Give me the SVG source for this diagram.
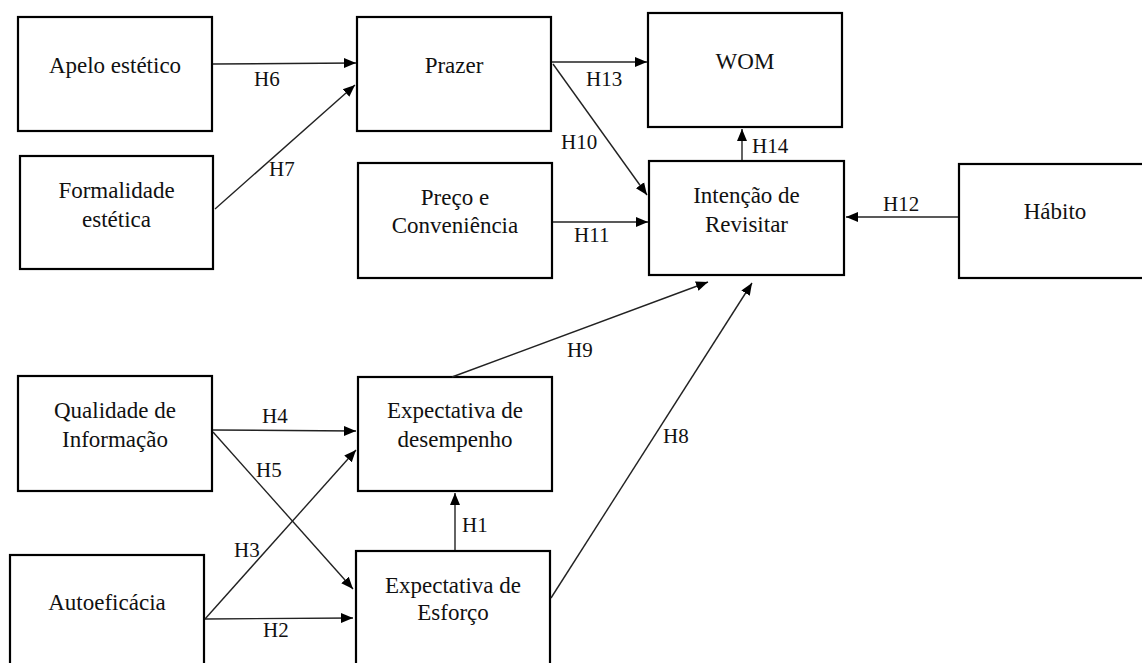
<svg xmlns="http://www.w3.org/2000/svg" width="1142" height="663" viewBox="0 0 1142 663">
<style>
.box{fill:#fff;stroke:#000;stroke-width:2.2}
.t{font-size:23px;fill:#111;text-anchor:middle}
.l{font-size:21px;fill:#111}
.c{stroke:#222;stroke-width:1.4;fill:none;marker-end:url(#ah)}
</style>
<defs>
<marker id="ah" markerUnits="userSpaceOnUse" markerWidth="14" markerHeight="12" refX="12" refY="5" orient="auto" viewBox="0 0 14 10">
<path d="M0,0 L12,5 L0,10 Z" fill="#000"/>
</marker>
</defs>
<rect width="1142" height="663" fill="#fff"/>
<g font-family="Liberation Serif, DejaVu Serif, serif">
<g id="n-apelo"><rect class="box" x="18" y="17" width="194" height="114"/><text class="t" x="115" y="73">Apelo estético</text></g>
<g id="n-formalidade"><rect class="box" x="20" y="156" width="193" height="113"/><text class="t" x="116.5" y="198">Formalidade</text><text class="t" x="116.5" y="227">estética</text></g>
<g id="n-prazer"><rect class="box" x="357" y="17" width="194" height="114"/><text class="t" x="454" y="73">Prazer</text></g>
<g id="n-wom"><rect class="box" x="648" y="13" width="194" height="114"/><text class="t" x="745" y="69">WOM</text></g>
<g id="n-preco"><rect class="box" x="358" y="163" width="194" height="115"/><text class="t" x="455" y="205">Preço e</text><text class="t" x="455" y="233">Conveniência</text></g>
<g id="n-intencao"><rect class="box" x="649" y="161" width="195" height="114"/><text class="t" x="746.5" y="203">Intenção de</text><text class="t" x="746.5" y="232">Revisitar</text></g>
<g id="n-habito"><rect class="box" x="959" y="164" width="194" height="114"/><text class="t" x="1055" y="219">Hábito</text></g>
<g id="n-qualidade"><rect class="box" x="18" y="376" width="194" height="115"/><text class="t" x="115" y="418">Qualidade de</text><text class="t" x="115" y="447">Informação</text></g>
<g id="n-desempenho"><rect class="box" x="358" y="377" width="194" height="114"/><text class="t" x="455" y="418">Expectativa de</text><text class="t" x="455" y="447">desempenho</text></g>
<g id="n-autoeficacia"><rect class="box" x="10" y="555" width="194" height="120"/><text class="t" x="107" y="610">Autoeficácia</text></g>
<g id="n-esforco"><rect class="box" x="356" y="551" width="194" height="124"/><text class="t" x="453" y="593">Expectativa de</text><text class="t" x="453" y="620">Esforço</text></g>
<g id="connectors">
<line class="c" x1="213" y1="64" x2="356" y2="63"/>
<line class="c" x1="215" y1="209" x2="355" y2="85"/>
<line class="c" x1="552" y1="62" x2="647" y2="62"/>
<line class="c" x1="553" y1="64" x2="647" y2="195"/>
<line class="c" x1="553" y1="222" x2="648" y2="222"/>
<line class="c" x1="742" y1="160" x2="742" y2="129"/>
<line class="c" x1="958" y1="217" x2="846" y2="217"/>
<line class="c" x1="452" y1="377" x2="708" y2="282"/>
<line class="c" x1="551" y1="598" x2="752" y2="283"/>
<line class="c" x1="455" y1="550" x2="455" y2="493"/>
<line class="c" x1="213" y1="430" x2="356" y2="431"/>
<line class="c" x1="213" y1="432" x2="353" y2="589"/>
<line class="c" x1="205" y1="619" x2="356" y2="450"/>
<line class="c" x1="205" y1="619" x2="353" y2="618"/>
<text class="l" x="254" y="86">H6</text>
<text class="l" x="269" y="176">H7</text>
<text class="l" x="586" y="86">H13</text>
<text class="l" x="561" y="149">H10</text>
<text class="l" x="574" y="242">H11</text>
<text class="l" x="752" y="153">H14</text>
<text class="l" x="883" y="211">H12</text>
<text class="l" x="567" y="357">H9</text>
<text class="l" x="663" y="443">H8</text>
<text class="l" x="462" y="532">H1</text>
<text class="l" x="262" y="423">H4</text>
<text class="l" x="256" y="477">H5</text>
<text class="l" x="234" y="557">H3</text>
<text class="l" x="263" y="637">H2</text>
</g>
</g>
</svg>
